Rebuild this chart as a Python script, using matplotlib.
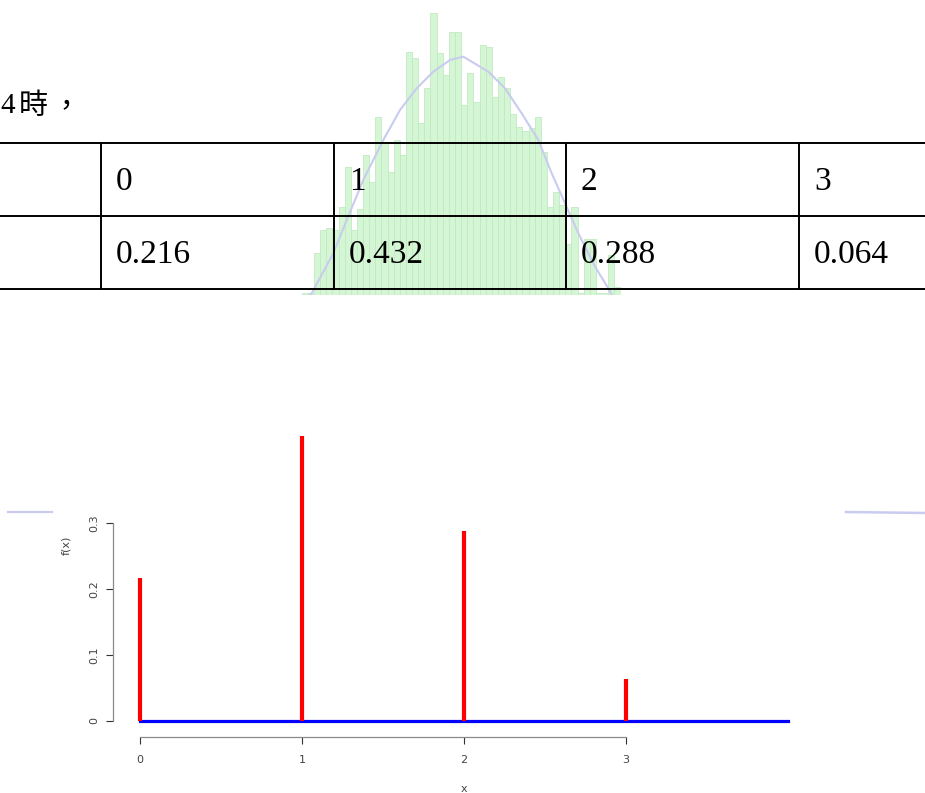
import numpy as np
import matplotlib.pyplot as plt

# 表格資料
x_vals = [0, 1, 2, 3]
probs = [0.216, 0.432, 0.288, 0.064]
head_labels = ['0', '1', '2', '3']
prob_labels = ['0.216', '0.432', '0.288', '0.064']
x_line = [0, 4]

# 背景浮水印直方圖 (高度讀自圖片)
hist_counts = [0, 2, 2,
               42, 65, 67, 65, 88, 128, 65, 86,
               140, 113, 178, 152, 123, 155, 140,
               243, 237, 172, 207, 282, 242, 220, 263, 263,
               190, 222, 193, 250, 248, 198, 218, 207,
               181, 168, 164, 167, 178, 143, 88, 103, 90, 51, 88,
               2, 56, 56, 2, 2, 40, 8]
curve_x = [2.3, 2.63, 6.15, 8.34, 11.04, 14.31, 17.03, 19.76, 22.46, 25.19,
           27.36, 28.73, 31.44, 34.16, 36.88, 39.59, 41.78, 43.95, 46.12,
           48.85, 51.01, 51.6]
curve_y = [0, 1.7, 41.7, 75, 115, 155, 185, 206.7, 223.3, 235, 238.3,
           233.3, 223.3, 206.7, 181.7, 155, 121.7, 91.7, 61.7, 28.3, 6.7, 0]

W, H = 925, 793
fig = plt.figure(figsize=(W / 100, H / 100), dpi=100)


def px_box(x0, y0, x1, y1):
    return [x0 / W, 1 - y1 / H, (x1 - x0) / W, (y1 - y0) / H]


# 浮水印
wm = fig.add_axes(px_box(295.6, 0, 620.5, 295), zorder=0)
wm.bar(np.arange(len(hist_counts)), hist_counts, width=1, align='edge',
       color='#d4f6d4', edgecolor='#c2eac2', linewidth=0.6)
wm.plot(curve_x, curve_y, color='#c9cbef', lw=1.5)
wm.set_xlim(0, len(hist_counts))
wm.set_ylim(0, 295)
wm.axis('off')

# 表格與文字 (像素座標)
bg = fig.add_axes([0, 0, 1, 1], zorder=1)
bg.patch.set_alpha(0)
bg.set_xlim(0, W)
bg.set_ylim(H, 0)
bg.axis('off')

for y in [142.5, 215.5, 288.5]:
    bg.plot([0, W], [y, y], color='black', lw=1.4)
for x in [101, 334, 566, 799]:
    bg.plot([x, x], [142.5, 288.5], color='black', lw=1.4)

serif = ['Liberation Serif', 'Noto Sans CJK TC']
for x, t in zip([101, 334, 566, 799], head_labels):
    bg.text(x + 15, 190, t, fontsize=24, family=serif, va='baseline', ha='left')
for x, t in zip([101, 334, 566, 799], prob_labels):
    bg.text(x + 15, 263, t, fontsize=24, family=serif, va='baseline', ha='left')

bg.text(0, 113, '4', fontsize=21, family=serif, va='baseline')
bg.text(19, 114, '時', fontsize=21, family=['Noto Sans CJK TC'], va='baseline')
bg.text(51, 114, '，', fontsize=21, family=['Noto Sans CJK TC'], va='baseline')

# 兩側殘留的淡紫線段
bg.plot([8, 52], [512, 512], color='#c9cbef', lw=1.6)
bg.plot([846, 925], [512, 513], color='#c9cbef', lw=1.8)

# R 風格的機率函數圖
ax = fig.add_axes(px_box(114.1, 424.5, 813.9, 732.4), zorder=2)
ax.patch.set_alpha(0)
ax.plot(x_line, [0, 0], color='blue', lw=2.3)
ax.vlines(x_vals, 0, probs, color='red', lw=3)
ax.set_xlim(-0.16, 4.16)
ax.set_ylim(-0.01728, 0.44928)

for s in ['top', 'right']:
    ax.spines[s].set_visible(False)
ax.spines['left'].set_position(('outward', 1))
ax.spines['bottom'].set_position(('outward', 3))
ax.spines['left'].set_bounds(0, 0.3)
ax.spines['bottom'].set_bounds(0, 3)
for s in ['left', 'bottom']:
    ax.spines[s].set_color('#8a8a8a')
    ax.spines[s].set_linewidth(0.9)

ax.set_xticks(x_vals)
ax.set_xticklabels(['0', '1', '2', '3'])
ax.set_yticks([0, 0.1, 0.2, 0.3])
ax.set_yticklabels(['0', '0.1', '0.2', '0.3'], rotation=90, va='center')
ax.tick_params(length=5, width=0.8, color='#333333', labelcolor='#444444',
               labelsize=8)
ax.tick_params(axis='y', pad=5)
ax.tick_params(axis='x', pad=8)

ax.set_xlabel('x', fontsize=8, color='#444444')
ax.set_ylabel('f(x)', fontsize=8, color='#444444')
ax.xaxis.set_label_coords(0.5, -0.168)
ax.yaxis.set_label_coords(-0.062, 0.608)

fig.savefig('out.png', dpi=100)
